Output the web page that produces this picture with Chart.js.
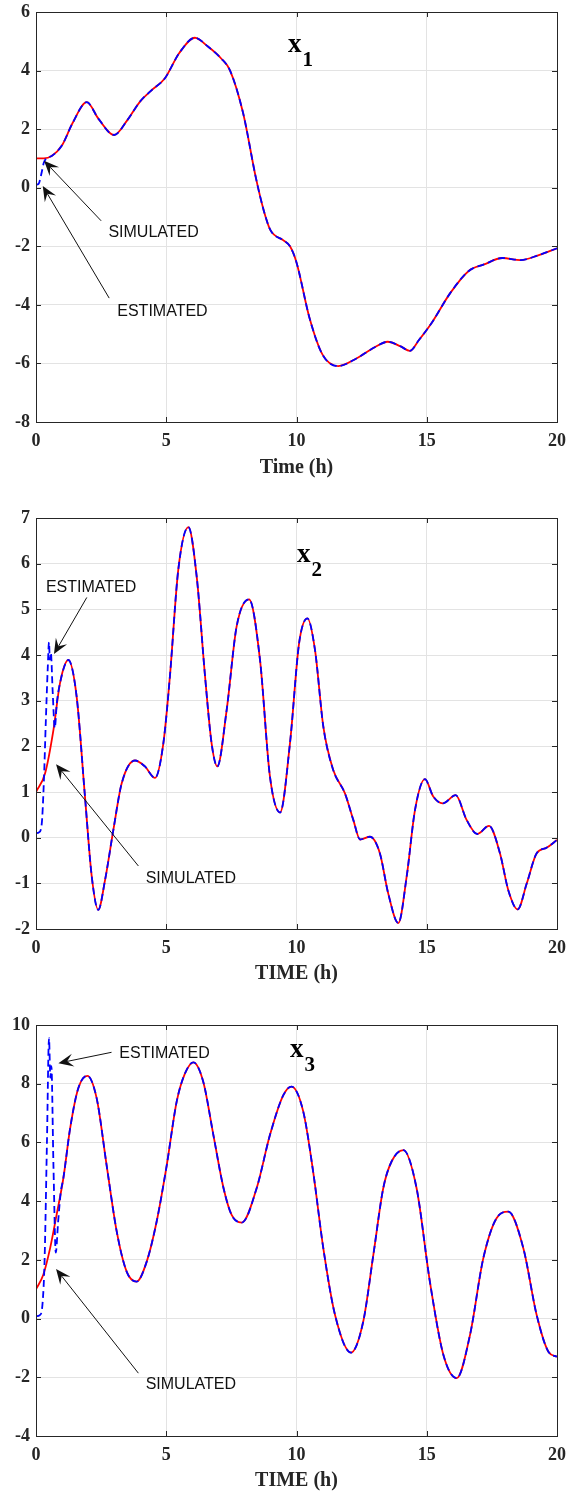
<!DOCTYPE html>
<html>
<head>
<meta charset="utf-8">
<script src="https://cdn.jsdelivr.net/npm/chart.js@4.4.1/dist/chart.umd.min.js"></script>
<style>
  html, body { margin: 0; padding: 0; background: #fff; }
  #wrap { position: relative; width: 568px; height: 1495px; }
  .panel { position: absolute; left: 0; width: 568px; }
</style>
</head>
<body>
<div id="wrap">
  <div class="panel" style="top:0"><canvas id="c1" width="568" height="482"></canvas></div>
  <div class="panel" style="top:506px"><canvas id="c2" width="568" height="482"></canvas></div>
  <div class="panel" style="top:1013px"><canvas id="c3" width="568" height="482"></canvas></div>
</div>
<script>
// ---- data (time in h) ----
var t1 = [0, 0.3, 0.6, 1.0, 1.4, 1.95, 2.4, 3.0, 3.5, 4.0, 4.4, 4.95, 5.5, 6.1, 6.6, 7.1, 7.45, 7.95, 8.45, 8.75,
          9.0, 9.5, 9.75, 10.0, 10.5, 11.0, 11.6, 12.3, 13.0, 13.5, 14.0, 14.35, 14.7, 15.2, 15.9, 16.6, 17.2, 17.9, 18.6, 19.3, 20];
var x1Sim = [1.0, 1.0, 1.08, 1.45, 2.2, 2.92, 2.35, 1.8, 2.3, 2.95, 3.3, 3.74, 4.6, 5.12, 4.82, 4.42, 4.0, 2.55, 0.3, -0.8,
             -1.45, -1.8, -2.0, -2.55, -4.45, -5.7, -6.09, -5.83, -5.45, -5.26, -5.42, -5.57, -5.2, -4.6, -3.6, -2.85, -2.62, -2.4, -2.47, -2.3, -2.07];
var x1EstT = [0, 0.1, 0.2, 0.3, 0.4];
var x1EstV = [0.1, 0.13, 0.45, 0.85, 1.0];

var t2 = [0, 0.35, 0.67, 0.92, 1.24, 1.56, 1.88, 2.14, 2.39, 2.65, 2.97, 3.29, 3.8, 4.18, 4.57, 4.89, 5.14, 5.46, 5.85, 6.17,
          6.49, 6.74, 6.96, 7.32, 7.7, 8.18, 8.6, 8.98, 9.37, 9.75, 10.1, 10.42, 10.71, 11.03, 11.41, 11.86, 12.18, 12.44, 12.82, 13.2,
          13.52, 13.91, 14.23, 14.55, 14.93, 15.25, 15.61, 16.11, 16.53, 16.94, 17.39, 17.81, 18.13, 18.49, 18.84, 19.22, 19.6, 20];
var x2Sim = [1.0, 1.41, 2.36, 3.38, 3.89, 3.09, 0.9, -0.85, -1.58, -0.93, 0.17, 1.19, 1.69, 1.56, 1.31, 2.07, 3.53, 5.86, 6.8, 5.71,
             3.53, 2.07, 1.56, 2.8, 4.62, 5.22, 3.89, 1.34, 0.55, 2.07, 4.26, 4.8, 4.11, 2.43, 1.48, 0.97, 0.39, -0.04, 0.02, -0.34,
             -1.22, -1.87, -0.85, 0.61, 1.28, 0.9, 0.75, 0.93, 0.39, 0.08, 0.26, -0.34, -1.15, -1.57, -1.0, -0.34, -0.22, -0.05];
var x2EstT = [0, 0.12, 0.22, 0.3, 0.38, 0.45, 0.5, 0.53, 0.57, 0.64, 0.72, 0.8];
var x2EstV = [0.1, 0.12, 0.3, 1.2, 2.6, 3.7, 4.28, 3.9, 4.05, 3.2, 2.4, 2.95];

var t3 = [0, 0.28, 0.54, 0.79, 1.05, 1.31, 1.62, 1.97, 2.33, 2.71, 3.1, 3.48, 3.86, 4.25, 4.63, 5.02, 5.4, 5.72, 6.04, 6.42,
          6.81, 7.2, 7.51, 7.9, 8.47, 8.98, 9.49, 9.81, 10.26, 10.64, 11.03, 11.48, 12.09, 12.56, 12.95, 13.33, 13.65, 14.1, 14.61, 15.12,
          15.64, 16.15, 16.66, 17.17, 17.68, 18.13, 18.71, 19.22, 19.67, 20];
var x3Sim = [1.0, 1.49, 2.39, 3.53, 4.78, 6.48, 7.84, 8.27, 7.5, 5.23, 2.96, 1.6, 1.26, 1.94, 3.3, 5.23, 7.39, 8.35, 8.73, 8.07,
             6.25, 4.44, 3.53, 3.27, 4.44, 6.25, 7.6, 7.9, 7.05, 5.0, 2.39, 0.12, -1.16, -0.11, 2.17, 4.44, 5.35, 5.74, 4.44, 1.26,
             -1.24, -2.03, -0.56, 2.05, 3.42, 3.64, 2.39, 0.12, -1.13, -1.3];
var x3EstT = [0, 0.15, 0.25, 0.33, 0.42, 0.5, 0.55, 0.59, 0.67, 0.76, 0.85, 0.95];
var x3EstV = [0.08, 0.12, 0.5, 2.0, 6.0, 9.55, 8.2, 8.6, 5.2, 2.25, 3.3, 4.3];

var xTicks = [0, 5, 10, 15, 20];

// --- colours / fonts ---
var red = '#ff0000';
var blue = '#0000ff';
var axisColor = '#262626';
var gridColor = '#e3e3e3';
var serif = '"Liberation Serif", "Times New Roman", serif';
var sans = '"Liberation Sans", Arial, sans-serif';

function pts(ts, vs) {
  return ts.map(function (t, i) { return { x: t, y: vs[i] }; });
}

// estimate = its own start-up transient, then it lies on the simulated curve
function estPts(et, ev, ts, vs) {
  var last = et[et.length - 1];
  var out = pts(et, ev);
  ts.forEach(function (t, i) { if (t > last) out.push({ x: t, y: vs[i] }); });
  return out;
}

// box round the axes with inward ticks, MATLAB style
var boxPlugin = {
  id: 'box',
  afterDatasetsDraw: function (chart) {
    var ctx = chart.ctx, a = chart.chartArea;
    var xs = chart.scales.x, ys = chart.scales.y;
    var L = 5;
    ctx.save();
    ctx.strokeStyle = axisColor;
    ctx.lineWidth = 1;
    ctx.beginPath();
    xs.ticks.forEach(function (tk) {
      var px = Math.round(xs.getPixelForValue(tk.value)) + 0.5;
      ctx.moveTo(px, a.bottom); ctx.lineTo(px, a.bottom - L);
      ctx.moveTo(px, a.top); ctx.lineTo(px, a.top + L);
    });
    ys.ticks.forEach(function (tk) {
      var py = Math.round(ys.getPixelForValue(tk.value)) + 0.5;
      ctx.moveTo(a.left, py); ctx.lineTo(a.left + L, py);
      ctx.moveTo(a.right, py); ctx.lineTo(a.right - L, py);
    });
    ctx.stroke();
    ctx.strokeRect(Math.round(a.left) + 0.5, Math.round(a.top) + 0.5,
                   Math.round(a.right - a.left), Math.round(a.bottom - a.top));
    ctx.restore();
  }
};

function drawArrow(ctx, x0, y0, x1, y1) {
  var dx = x1 - x0, dy = y1 - y0;
  var len = Math.sqrt(dx * dx + dy * dy);
  var ux = dx / len, uy = dy / len, nx = -uy, ny = ux;
  var hl = 15, hw = 13;
  var bx = x1 - ux * hl, by = y1 - uy * hl;
  var mx = x1 - ux * hl * 0.6, my = y1 - uy * hl * 0.6;
  ctx.beginPath();
  ctx.moveTo(x0, y0); ctx.lineTo(mx, my);
  ctx.lineWidth = 1;
  ctx.stroke();
  ctx.beginPath();
  ctx.moveTo(x1, y1);
  ctx.lineTo(bx + nx * hw / 2, by + ny * hw / 2);
  ctx.lineTo(mx, my);
  ctx.lineTo(bx - nx * hw / 2, by - ny * hw / 2);
  ctx.closePath();
  ctx.fill();
}

// labels and arrows, placed in data units
var notesPlugin = {
  id: 'notes',
  afterDraw: function (chart) {
    var n = chart.options.plugins.notes;
    var ctx = chart.ctx, xs = chart.scales.x, ys = chart.scales.y;
    ctx.save();
    ctx.fillStyle = '#111';
    ctx.strokeStyle = '#111';
    ctx.font = '16px ' + sans;
    ctx.textBaseline = 'middle';
    ctx.textAlign = 'left';
    n.labels.forEach(function (l) {
      ctx.fillText(l.text, xs.getPixelForValue(l.at[0]), ys.getPixelForValue(l.at[1]));
      drawArrow(ctx, xs.getPixelForValue(l.from[0]), ys.getPixelForValue(l.from[1]),
                xs.getPixelForValue(l.to[0]), ys.getPixelForValue(l.to[1]));
    });
    // x with subscript
    var tx = xs.getPixelForValue(n.name[0]), ty = ys.getPixelForValue(n.name[1]);
    ctx.fillStyle = '#000';
    ctx.textBaseline = 'alphabetic';
    ctx.font = 'bold 27px ' + serif;
    ctx.fillText('x', tx, ty);
    var w = ctx.measureText('x').width;
    ctx.font = 'bold 21px ' + serif;
    ctx.fillText(n.sub, tx + w + 1, ty + 14);
    ctx.restore();
  }
};

function makeChart(id, sim, est, yMin, yMax, yStep, xTitle, xHeight, notes) {
  new Chart(document.getElementById(id), {
    type: 'line',
    data: {
      datasets: [
        { label: 'ESTIMATED', data: est, borderColor: blue, borderWidth: 1.8, borderDash: [7, 4],
          pointRadius: 0, cubicInterpolationMode: 'monotone', order: 0 },
        { label: 'SIMULATED', data: sim, borderColor: red, borderWidth: 1.8,
          pointRadius: 0, cubicInterpolationMode: 'monotone', order: 1 }
      ]
    },
    options: {
      responsive: false,
      animation: false,
      events: [],
      layout: { autoPadding: false, padding: { top: 12, right: 11, left: 0, bottom: 0 } },
      scales: {
        x: {
          type: 'linear', min: 0, max: 20,
          afterFit: function (s) { s.height = xHeight; s.paddingLeft = 0; s.paddingRight = 0; },
          afterBuildTicks: function (s) { s.ticks = xTicks.map(function (v) { return { value: v }; }); },
          grid: { color: gridColor, drawTicks: false },
          border: { display: false },
          ticks: { padding: 9, color: axisColor, font: { family: serif, size: 18, weight: 'bold' } },
          title: { display: true, text: xTitle, color: axisColor, padding: { top: 0, bottom: 2 },
                   font: { family: serif, size: 20, weight: 'bold' } }
        },
        y: {
          min: yMin, max: yMax,
          afterFit: function (s) { s.width = 36; s.paddingTop = 0; s.paddingBottom = 0; },
          grid: { color: gridColor, drawTicks: false },
          border: { display: false },
          ticks: { stepSize: yStep, padding: 6, color: axisColor, font: { family: serif, size: 18, weight: 'bold' } }
        }
      },
      plugins: { legend: { display: false }, tooltip: { enabled: false }, notes: notes }
    },
    plugins: [boxPlugin, notesPlugin]
  });
}

makeChart('c1', pts(t1, x1Sim), estPts(x1EstT, x1EstV, t1, x1Sim), -8, 6, 2, 'Time (h)', 60, {
  name: [9.67, 4.63], sub: '1',
  labels: [
    { text: 'SIMULATED', at: [2.78, -1.53], from: [2.5, -1.13], to: [0.31, 0.92] },
    { text: 'ESTIMATED', at: [3.12, -4.23], from: [2.81, -3.77], to: [0.26, 0.06] }
  ]
});

makeChart('c2', pts(t2, x2Sim), estPts(x2EstT, x2EstV, t2, x2Sim), -2, 7, 1, 'TIME (h)', 59, {
  name: [10.02, 6.04], sub: '2',
  labels: [
    { text: 'ESTIMATED', at: [0.38, 5.47], from: [1.95, 5.26], to: [0.69, 4.02] },
    { text: 'SIMULATED', at: [4.21, -0.89], from: [3.93, -0.62], to: [0.77, 1.61] }
  ]
});

makeChart('c3', pts(t3, x3Sim), estPts(x3EstT, x3EstV, t3, x3Sim), -4, 10, 2, 'TIME (h)', 59, {
  name: [9.75, 8.91], sub: '3',
  labels: [
    { text: 'ESTIMATED', at: [3.2, 9.04], from: [2.9, 9.07], to: [0.86, 8.7] },
    { text: 'SIMULATED', at: [4.21, -2.26], from: [3.93, -1.86], to: [0.77, 1.69] }
  ]
});
</script>
</body>
</html>
